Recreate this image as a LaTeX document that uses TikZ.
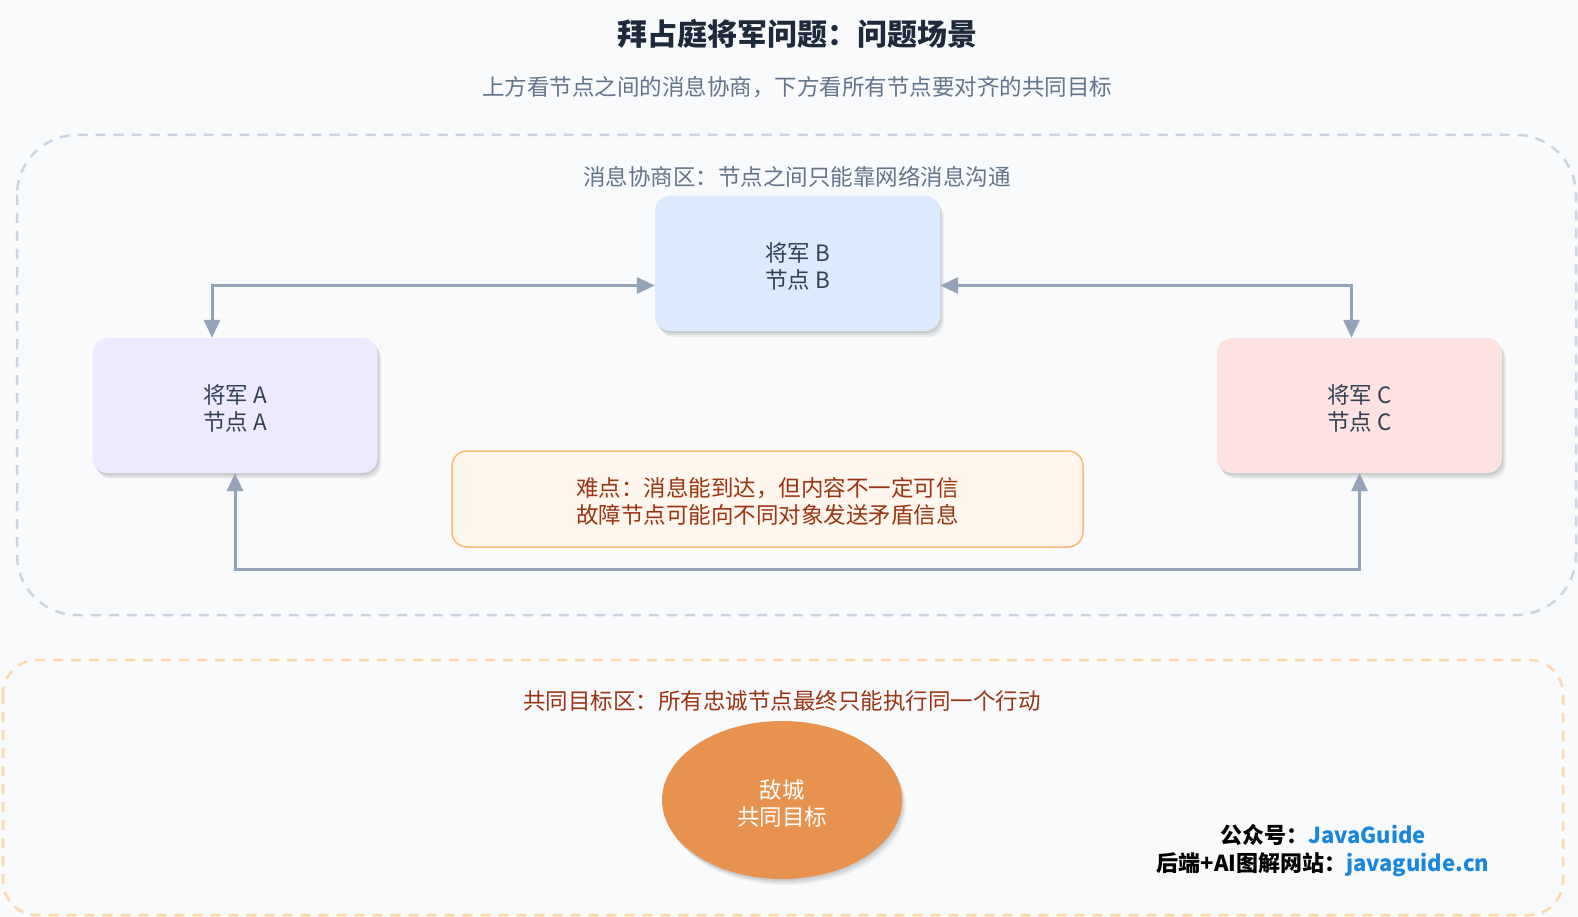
\documentclass[tikz,border=0pt]{standalone}
\usepackage{fontspec}
\setmainfont{Noto Sans CJK SC}
\usetikzlibrary{arrows.meta,shapes.geometric,shadows,calc}
\definecolor{bg}{HTML}{F8FAFC}
\definecolor{titlec}{HTML}{1E293B}
\definecolor{subc}{HTML}{64748B}
\definecolor{nodetxt}{HTML}{334155}
\definecolor{zoneA}{HTML}{CBD5E1}
\definecolor{zoneB}{HTML}{FED7AA}
\definecolor{fillA}{HTML}{EDE9FE}
\definecolor{fillB}{HTML}{DBEAFE}
\definecolor{fillC}{HTML}{FEE2E2}
\definecolor{warnfill}{HTML}{FFF7ED}
\definecolor{warnline}{HTML}{FDBA74}
\definecolor{warntxt}{HTML}{9A3412}
\definecolor{arrowc}{HTML}{94A3B8}
\definecolor{cityc}{HTML}{E8924F}
\definecolor{linkc}{HTML}{1A87DC}
\tikzset{
  txt/.style={font=\fontsize{22.5}{27}\selectfont, align=center, inner sep=0pt},
  softshadow/.style={
    drop shadow={shadow xshift=1pt,shadow yshift=-2pt,opacity=0.07,fill=black},
    drop shadow={shadow xshift=2.5pt,shadow yshift=-4pt,opacity=0.07,fill=black},
    drop shadow={shadow xshift=4pt,shadow yshift=-6pt,opacity=0.05,fill=black}},
  general/.style={minimum width=285pt, minimum height=135pt, rounded corners=15pt, softshadow},
  zone/.style={line width=2.5pt, dash pattern=on 10pt off 8pt},
  conn/.style={draw=arrowc, line width=3pt, {Triangle[length=18pt,width=16pt]}-{Triangle[length=18pt,width=16pt]}},
}
\begin{document}
\begin{tikzpicture}[x=1pt,y=-1pt]
\useasboundingbox (0,0) rectangle (1578,917);
\fill[bg] (0,0) rectangle (1578,917);

% titles
\node[txt, text=titlec, font=\fontsize{30}{36}\selectfont\bfseries] (title) at (797,34) {拜占庭将军问题：问题场景};
\node[txt, text=subc] (subtitle) at (797,87) {上方看节点之间的消息协商，下方看所有节点要对齐的共同目标};

% zones
\draw[zone, draw=zoneA, rounded corners=60pt] (17,135) rectangle (1576,615);
\draw[zone, draw=zoneB, rounded corners=34pt] (3,660) rectangle (1563,915);

\node[txt, text=subc] (zonelabelA) at (797,177) {消息协商区：节点之间只能靠网络消息沟通};
\node[txt, text=warntxt] (zonelabelB) at (782,701) {共同目标区：所有忠诚节点最终只能执行同一个行动};

% generals
\node[general, fill=fillA] (A) at (235,405.5) {};
\node[general, fill=fillB] (B) at (797.5,263.5) {};
\node[general, fill=fillC] (C) at (1359.5,405.5) {};
\node[txt, text=nodetxt] (Atxt) at ([yshift=-3pt]A.center) {将军 A\\节点 A};
\node[txt, text=nodetxt] (Btxt) at ([yshift=-3pt]B.center) {将军 B\\节点 B};
\node[txt, text=nodetxt] (Ctxt) at ([yshift=-3pt]C.center) {将军 C\\节点 C};

% difficulty
\node[fill=warnfill, draw=warnline, line width=1.5pt, rounded corners=15pt,
      minimum width=631pt, minimum height=96pt] (hard) at (767.5,499) {};
\node[txt, text=warntxt] (hardtxt) at ([yshift=-2pt]hard.center)
  {难点：消息能到达，但内容不一定可信\\故障节点可能向不同对象发送矛盾信息};

% connectors
\draw[conn] ([xshift=-23pt]A.north) |- ([yshift=-22pt]B.west);
\draw[conn] ([yshift=-22pt]B.east) -| ([xshift=-8pt]C.north);
\draw[conn] (A.south) -- ++(0,96) -| (C.south);

% target
\node[ellipse, fill=cityc, minimum width=240pt, minimum height=158pt, softshadow] (city) at (782,800) {};
\node[txt, text=white] (citytxt) at ([yshift=-3pt]city.center) {敌城\\共同目标};

% watermark
\node[txt, font=\fontsize{22}{28}\selectfont\bfseries, text=black] (wm) at (1323,851)
  {公众号：\textcolor{linkc}{JavaGuide}\\后端+AI图解网站：\textcolor{linkc}{javaguide.cn}};
\end{tikzpicture}
\end{document}
